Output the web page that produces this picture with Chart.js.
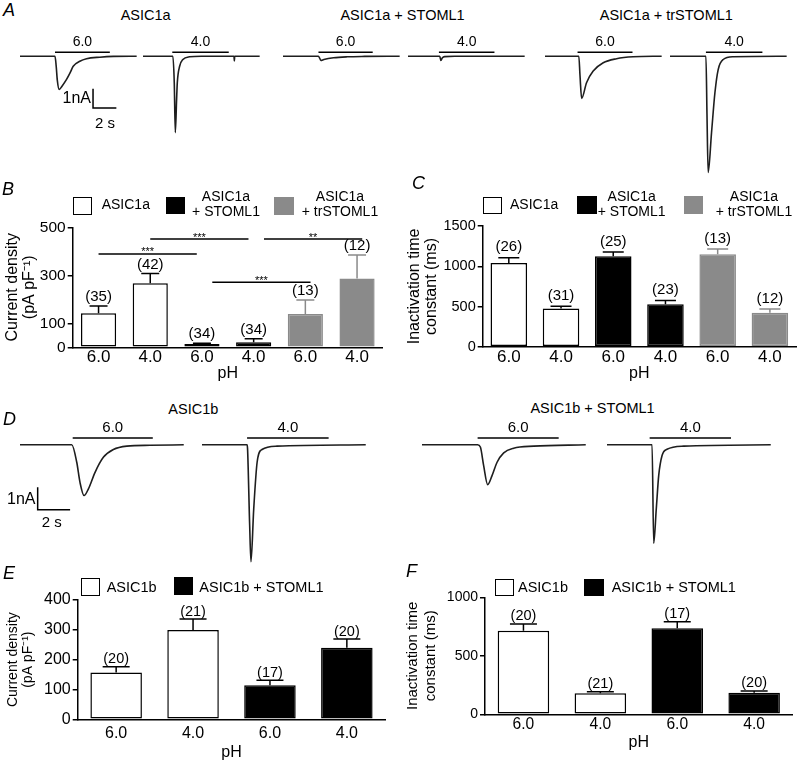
<!DOCTYPE html>
<html>
<head>
<meta charset="utf-8">
<script src="https://cdn.jsdelivr.net/npm/chart.js@4.4.0/dist/chart.umd.min.js"></script>
<style>
  html, body { margin: 0; padding: 0; background: #fff; }
  #fig { position: relative; width: 798px; height: 761px; overflow: hidden;
         font-family: "Liberation Sans", Arial, Helvetica, sans-serif; color: #000; }
  #fig canvas { position: absolute; }
  .t { position: absolute; white-space: pre; line-height: 1; }
  .box { position: absolute; box-sizing: border-box; }
</style>
</head>
<body>
<div id="fig"></div>
<script>
// ---- traces (time in s, current in nA) ----
const a1T = [0, 3.0, 3.1, 3.2, 3.36, 3.6, 3.99, 4.3, 4.56, 5.13, 5.7, 6.84, 8, 10];
const a1I = [0, 0, -0.5, -1.25, -1.72, -1.55, -1.2, -0.85, -0.52, -0.26, -0.13, -0.05, -0.01, 0];
const a2T = [0, 2.56, 2.68, 2.77, 2.88, 2.94, 3.14, 3.42, 3.99, 5, 7.8, 7.83, 7.86, 10];
const a2I = [0, 0, -1.37, -3.95, -2.23, -1.37, -0.52, -0.17, -0.03, 0, 0, -0.25, 0, 0];
const a3T = [0, 3.04, 3.25, 3.5, 4.33, 5.5, 7, 10];
const a3I = [0, 0, -0.22, -0.17, -0.08, -0.03, -0.01, 0];
const a4T = [0, 2.72, 2.82, 2.95, 3.14, 4, 10];
const a4I = [0, 0, -0.22, -0.08, -0.02, 0, 0];
const a5T = [0, 2.9, 3.0, 3.14, 3.56, 4.13, 4.99, 6.13, 7.55, 10];
const a5I = [0, 0, -1.0, -2.18, -1.37, -0.77, -0.34, -0.13, -0.03, 0];
const a6T = [0, 3.08, 3.17, 3.27, 3.56, 3.85, 4.13, 4.56, 5.41, 10];
const a6I = [0, 0, -3.0, -6.01, -3.95, -1.89, -0.69, -0.17, -0.03, 0];
const d1T = [0, 3.19, 3.5, 3.7, 3.95, 4.22, 4.63, 5.14, 5.76, 6.59, 8.02, 10.1];
const d1I = [0, 0, -0.78, -1.68, -2.27, -1.97, -1.23, -0.56, -0.21, -0.06, -0.02, 0];
const d2T = [0, 2.78, 2.81, 2.94, 3.02, 3.19, 3.40, 3.70, 4.63, 10.1];
const d2I = [0, 0, -0.18, -3.6, -5.23, -2.87, -0.78, -0.21, -0.06, 0];
const d3T = [0, 3.43, 3.6, 3.8, 4.05, 4.32, 4.63, 5.04, 5.65, 6.89, 10.1];
const d3I = [0, 0, -0.1, -0.92, -1.78, -1.38, -0.78, -0.36, -0.15, -0.06, 0];
const d4T = [0, 2.78, 2.88, 3.04, 3.19, 3.40, 3.70, 4.73, 10.1];
const d4I = [0, 0, -4.41, -2.86, -1.37, -0.47, -0.2, -0.06, 0];

// pH application periods (s)
const stimA = [[3.0, 7.7], [2.51, 7.35], [3.04, 7.69], [2.65, 7.41], [2.79, 7.5], [3.08, 7.92]];
const stimD = [[3.25, 8.19], [2.78, 7.81], [3.43, 8.43], [2.63, 7.65]];
const stimText = ['6.0', '4.0', '6.0', '4.0', '6.0', '4.0'];

// 1 nA / 2 s scale bars
const scaleA_T = [6.26, 6.26, 8.26];
const scaleA_I = [-1.68, -2.68, -2.68];
const scaleD_T = [1.09, 1.09, 3.09];
const scaleD_I = [-1.9, -2.9, -2.9];

// ---- bar data ----
const phLabels6 = ['6.0', '4.0', '6.0', '4.0', '6.0', '4.0'];
const phLabels4 = ['6.0', '4.0', '6.0', '4.0'];

const densityB = [142, 267, 14, 21, 139, 287];
const densityBsem = [30, 41, 3, 15, 58, 98];
const densityBn = ['(35)', '(42)', '(34)', '(34)', '(13)', '(12)'];
const ticksB = [0, 100, 300, 500];
const sigB = [
  { from: 0, to: 1.9, y: 389, mark: '***' },
  { from: 1.0, to: 2.9, y: 451, mark: '***' },
  { from: 3.2, to: 5.1, y: 451, mark: '**' },
  { from: 2.2, to: 4.1, y: 271, mark: '***' }
];

const tauC = [1043, 477, 1127, 527, 1152, 422];
const tauCsem = [63, 25, 53, 49, 65, 46];
const tauCn = ['(26)', '(31)', '(25)', '(23)', '(13)', '(12)'];
const ticksC = [0, 500, 1000, 1500];

const densityE = [157, 299, 114, 240];
const densityEsem = [19, 37, 17, 29];
const densityEn = ['(20)', '(21)', '(17)', '(20)'];
const ticksE = [0, 100, 200, 300, 400];

const tauF = [715, 180, 735, 185];
const tauFsem = [57, 13, 57, 14];
const tauFn = ['(20)', '(21)', '(17)', '(20)'];
const ticksF = [0, 500, 1000];

const GRAY = '#8a8a8a';
const fills6 = ['#fff', '#fff', '#000', '#000', GRAY, GRAY];
const edges6 = ['#000', '#000', '#000', '#000', GRAY, GRAY];
const fills4 = ['#fff', '#fff', '#000', '#000'];
const edges4 = ['#000', '#000', '#000', '#000'];

Chart.defaults.font.family = '"Liberation Sans", Arial, Helvetica, sans-serif';
Chart.defaults.color = '#000';
Chart.defaults.animation = false;

const fig = document.getElementById('fig');

function addCanvas(left, top, width, height) {
  const c = document.createElement('canvas');
  c.width = Math.round(width);
  c.height = Math.round(height);
  c.style.left = Math.round(left) + 'px';
  c.style.top = Math.round(top) + 'px';
  fig.appendChild(c);
  return c;
}

function addText(str, x, y, size, align, extra) {
  const d = document.createElement('div');
  d.className = 't';
  d.textContent = str;
  d.style.left = x + 'px';
  d.style.top = y + 'px';
  d.style.fontSize = size + 'px';
  const tx = align === 'right' ? '-100%' : align === 'left' ? '0' : '-50%';
  d.style.transform = 'translate(' + tx + ',-50%)';
  if (extra) Object.assign(d.style, extra);
  fig.appendChild(d);
}

function addBox(x, y, w, h, fill, edge) {
  const b = document.createElement('div');
  b.className = 'box';
  Object.assign(b.style, { left: x + 'px', top: y + 'px', width: w + 'px', height: h + 'px',
    background: fill, border: edge ? '1.5px solid ' + edge : 'none' });
  fig.appendChild(b);
}

// label above each pH bar in the traces
const stimLabelPlugin = {
  id: 'stimLabel',
  afterDatasetsDraw(chart, args, o) {
    if (!o.text) return;
    const { ctx, scales: { x, y } } = chart;
    ctx.save();
    ctx.font = o.size + 'px ' + Chart.defaults.font.family;
    ctx.fillStyle = '#000';
    ctx.textAlign = 'center';
    ctx.textBaseline = 'middle';
    ctx.fillText(o.text, x.getPixelForValue((o.on + o.off) / 2), y.getPixelForValue(o.level) - 10);
    ctx.restore();
  }
};

function makeTrace(row, left, t, cur, stim, text, bar) {
  const w = row.tMax * row.pxs;
  const h = (row.iMax - row.iMin) * row.pxa;
  const cv = addCanvas(left, row.base - row.iMax * row.pxa, w, h);
  const datasets = [
    { data: t.map((v, k) => ({ x: v, y: cur[k] })), borderColor: '#1e1e1e', borderWidth: 1.6,
      pointRadius: 0, cubicInterpolationMode: 'monotone', clip: false },
    { data: stim.map(v => ({ x: v, y: row.stimLevel })), borderColor: '#000', borderWidth: 1.5,
      pointRadius: 0, clip: false }
  ];
  if (bar) {
    datasets.push({ data: bar[0].map((v, k) => ({ x: v, y: bar[1][k] })), borderColor: '#000',
      borderWidth: 1.5, pointRadius: 0, tension: 0, clip: false });
  }
  new Chart(cv, {
    type: 'line',
    data: { datasets },
    options: {
      responsive: false,
      layout: { padding: 0 },
      plugins: { legend: { display: false }, tooltip: { enabled: false },
        stimLabel: { text, on: stim[0], off: stim[1], level: row.stimLevel, size: row.labelSize } },
      scales: {
        x: { type: 'linear', min: 0, max: row.tMax, display: false },
        y: { min: row.iMin, max: row.iMax, display: false }
      }
    },
    plugins: [stimLabelPlugin]
  });
}

// upper error bars and n labels
const errorBarPlugin = {
  id: 'errorBars',
  afterDatasetsDraw(chart, args, o) {
    const { ctx } = chart;
    const y = chart.scales.y;
    const ds = chart.data.datasets[0];
    const meta = chart.getDatasetMeta(0);
    ctx.save();
    meta.data.forEach((bar, i) => {
      const v = ds.data[i];
      const top = y.getPixelForValue(v);
      const hi = y.getPixelForValue(v + o.sem[i]);
      ctx.strokeStyle = o.colors[i];
      ctx.lineWidth = 1.5;
      ctx.beginPath();
      ctx.moveTo(bar.x, top);
      ctx.lineTo(bar.x, hi);
      ctx.moveTo(bar.x - o.cap / 2, hi);
      ctx.lineTo(bar.x + o.cap / 2, hi);
      ctx.stroke();
      ctx.fillStyle = '#000';
      ctx.font = o.size + 'px ' + Chart.defaults.font.family;
      ctx.textAlign = 'center';
      ctx.textBaseline = 'middle';
      ctx.fillText(o.n[i], bar.x, hi - o.gap);
    });
    ctx.restore();
  }
};

// significance brackets (panel B)
const sigPlugin = {
  id: 'sigLines',
  afterDatasetsDraw(chart, args, o) {
    if (!o.lines || !o.lines.length) return;
    const { ctx, scales: { x, y } } = chart;
    ctx.save();
    ctx.strokeStyle = '#000';
    ctx.lineWidth = 1.5;
    ctx.fillStyle = '#000';
    ctx.font = '11px ' + Chart.defaults.font.family;
    ctx.textAlign = 'center';
    ctx.textBaseline = 'alphabetic';
    o.lines.forEach(s => {
      const x0 = x.getPixelForValue(s.from), x1 = x.getPixelForValue(s.to);
      const py = y.getPixelForValue(s.y);
      ctx.beginPath();
      ctx.moveTo(x0, py);
      ctx.lineTo(x1, py);
      ctx.stroke();
      ctx.fillText(s.mark, (x0 + x1) / 2, py + 1.5);
    });
    ctx.restore();
  }
};

function makeBars(p) {
  const cv = addCanvas(p.left, p.top, p.width, p.height);
  new Chart(cv, {
    type: 'bar',
    data: {
      labels: p.labels,
      datasets: [{ data: p.values, backgroundColor: p.fills, borderColor: p.edges, borderWidth: 1.5,
        borderSkipped: false, barPercentage: p.barPct, categoryPercentage: 1 }]
    },
    options: {
      responsive: false,
      layout: { padding: { left: 0, bottom: 0, top: p.area.t - p.top, right: p.left + p.width - p.area.r } },
      plugins: {
        legend: { display: false }, tooltip: { enabled: false },
        errorBars: { sem: p.sem, n: p.n, colors: p.edges, cap: p.cap, gap: p.gap, size: p.nSize },
        sigLines: { lines: p.sig || [] }
      },
      scales: {
        x: {
          grid: { display: false, drawTicks: false },
          border: { display: true, color: '#000', width: 1.5 },
          ticks: { font: { size: p.xTickSize }, padding: p.xTickPad, color: '#000' },
          title: { display: true, text: 'pH', font: { size: 16, lineHeight: 1 }, padding: { top: 0, bottom: p.phPad } },
          afterFit(s) { s.height = p.top + p.height - p.area.b; }
        },
        y: {
          min: p.ticks[0], max: p.ticks[p.ticks.length - 1],
          afterBuildTicks(s) { s.ticks = p.ticks.map(v => ({ value: v })); },
          grid: { drawOnChartArea: false, drawTicks: true, tickLength: 5, color: '#000', lineWidth: 1.5 },
          border: { display: true, color: '#000', width: 1.5 },
          ticks: { font: { size: p.yTickSize }, padding: 2, color: '#000', callback: v => String(v) },
          title: { display: true, text: p.yTitle, font: { size: p.yTitleSize, lineHeight: p.yTitleLH },
            padding: { top: p.yTitlePad, bottom: 0 } },
          afterFit(s) { s.width = p.area.l - p.left; }
        }
      }
    },
    plugins: [errorBarPlugin, sigPlugin]
  });
}

// ---- panel A ----
const rowA = { pxs: 11.7, pxa: 19.4, base: 56.7, tMax: 10.2, iMin: -6.4, iMax: 1.2, stimLevel: 0.21, labelSize: 14 };
makeTrace(rowA, 20, a1T, a1I, stimA[0], stimText[0], [scaleA_T, scaleA_I]);
makeTrace(rowA, 143.3, a2T, a2I, stimA[1], stimText[1]);
makeTrace(rowA, 282.7, a3T, a3I, stimA[2], stimText[2]);
makeTrace(rowA, 408.3, a4T, a4I, stimA[3], stimText[3]);
makeTrace(rowA, 545, a5T, a5I, stimA[4], stimText[4]);
makeTrace(rowA, 670, a6T, a6I, stimA[5], stimText[5]);
addText('ASIC1a', 145.7, 15, 14.5);
addText('ASIC1a + STOML1', 402.5, 15, 14.5);
addText('ASIC1a + trSTOML1', 666.3, 15, 14.5);
addText('1nA', 91, 98, 16, 'right');
addText('2 s', 105, 121.5, 15);

// ---- panel D ----
const rowD = { pxs: 16.2, pxa: 22.3, base: 444.3, tMax: 10.3, iMin: -5.6, iMax: 1.2, stimLevel: 0.31, labelSize: 15 };
makeTrace(rowD, 20, d1T, d1I, stimD[0], stimText[0], [scaleD_T, scaleD_I]);
makeTrace(rowD, 201.7, d2T, d2I, stimD[1], stimText[1]);
makeTrace(rowD, 421.7, d3T, d3I, stimD[2], stimText[2]);
makeTrace(rowD, 606.7, d4T, d4I, stimD[3], stimText[3]);
addText('ASIC1b', 193.3, 409.3, 14.5);
addText('ASIC1b + STOML1', 592.5, 408.3, 14.5);
addText('1nA', 35.5, 499, 16, 'right');
addText('2 s', 51.7, 520.7, 15);

// ---- panel B ----
makeBars({ left: 0, top: 170, width: 400, height: 214, area: { l: 72.7, t: 227.3, r: 382.9, b: 347.3 },
  labels: phLabels6, values: densityB, sem: densityBsem, n: densityBn, fills: fills6, edges: edges6,
  barPct: 0.68, ticks: ticksB, sig: sigB, cap: 18, gap: 9, nSize: 15,
  xTickSize: 17, xTickPad: 0, phPad: 2, yTickSize: 15.5,
  yTitle: ['Current density', '(pA pF\u207B\u00B9)'], yTitleSize: 16, yTitleLH: 1.06, yTitlePad: 4.5 });

// ---- panel C ----
makeBars({ left: 400, top: 170, width: 398, height: 214, area: { l: 482.7, t: 226.2, r: 796, b: 346.7 },
  labels: phLabels6, values: tauC, sem: tauCsem, n: tauCn, fills: fills6, edges: edges6,
  barPct: 0.70, ticks: ticksC, cap: 21, gap: 10.5, nSize: 15,
  xTickSize: 17, xTickPad: 0, phPad: 2, yTickSize: 14.5,
  yTitle: ['Inactivation time', 'constant (ms)'], yTitleSize: 16, yTitleLH: 1.06, yTitlePad: 6.5 });

// ---- panel E ----
makeBars({ left: 0, top: 560, width: 400, height: 201, area: { l: 77.7, t: 600, r: 385.3, b: 719.3 },
  labels: phLabels4, values: densityE, sem: densityEsem, n: densityEn, fills: fills4, edges: edges4,
  barPct: 0.67, ticks: ticksE, cap: 27, gap: 7.5, nSize: 14.5,
  xTickSize: 16, xTickPad: 4.4, phPad: 0, yTickSize: 16,
  yTitle: ['Current density', '(pA pF\u207B\u00B9)'], yTitleSize: 14, yTitleLH: 1.07, yTitlePad: 5.8 });

// ---- panel F ----
makeBars({ left: 400, top: 560, width: 398, height: 193, area: { l: 485, t: 597.3, r: 792.6, b: 714.3 },
  labels: phLabels4, values: tauF, sem: tauFsem, n: tauFn, fills: fills4, edges: edges4,
  barPct: 0.67, ticks: ticksF, cap: 27, gap: 8, nSize: 14.5,
  xTickSize: 15.6, xTickPad: 1, phPad: 2.5, yTickSize: 14,
  yTitle: ['Inactivation time', 'constant (ms)'], yTitleSize: 15, yTitleLH: 1.15, yTitlePad: 4.7 });

// ---- legends ----
const twoLine = { lineHeight: '15px', textAlign: 'center' };
addBox(72.7, 197, 19.5, 18, '#fff', '#000');
addText('ASIC1a', 101.7, 204, 14, 'left');
addBox(165.7, 196.5, 19.5, 17.5, '#000');
addText('ASIC1a\n+ STOML1', 226, 204.2, 14, 'center', twoLine);
addBox(274, 196.5, 19.5, 18, GRAY);
addText('ASIC1a\n+ trSTOML1', 340, 204.2, 14, 'center', twoLine);

addBox(483.3, 196.7, 18.5, 17.5, '#fff', '#000');
addText('ASIC1a', 510, 204, 14, 'left');
addBox(576.7, 196, 20, 17.5, '#000');
addText('ASIC1a\n+ STOML1', 631.7, 204.2, 14, 'center', twoLine);
addBox(684, 196, 19, 18, GRAY);
addText('ASIC1a\n+ trSTOML1', 754, 204.2, 14, 'center', twoLine);

addBox(81, 578, 19, 18, '#fff', '#000');
addText('ASIC1b', 106.7, 587, 14.5, 'left');
addBox(174.3, 577, 18.5, 18, '#000');
addText('ASIC1b + STOML1', 199.3, 587, 14.5, 'left');

addBox(495, 579, 18.5, 16.5, '#fff', '#000');
addText('ASIC1b', 518, 587, 14.5, 'left');
addBox(584.3, 579, 19.5, 16.5, '#000');
addText('ASIC1b + STOML1', 611.7, 587, 14.5, 'left');

// ---- panel letters ----
const italic = { fontStyle: 'italic' };
addText('A', 3, 10, 18, 'left', italic);
addText('B', 2, 188.5, 18, 'left', italic);
addText('C', 412, 182.5, 18, 'left', italic);
addText('D', 3, 419, 18, 'left', italic);
addText('E', 3, 572.5, 18, 'left', italic);
addText('F', 406, 571, 18, 'left', italic);
</script>
</body>
</html>
